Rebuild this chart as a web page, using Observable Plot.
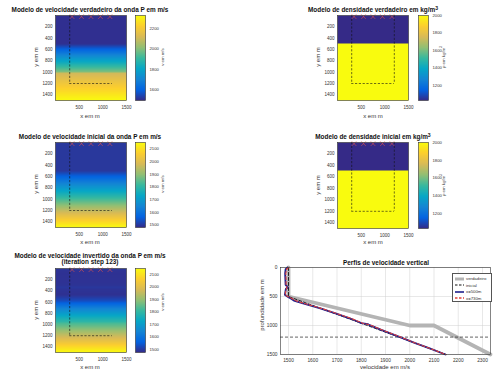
<!DOCTYPE html>
<html><head><meta charset="utf-8">
<script src="https://cdn.jsdelivr.net/npm/d3@7"></script>
<script src="https://cdn.jsdelivr.net/npm/@observablehq/plot@0.6"></script>
<style>
html,body{margin:0;padding:0;background:#fff;}
#fig{position:relative;width:494px;height:373px;overflow:hidden;font-family:"Liberation Sans",Arial,sans-serif;color:#222;}
.t{position:absolute;white-space:nowrap;transform:translate(-50%,-50%);line-height:1;}
.title{font-weight:bold;font-size:6.4px;color:#111;}
.lab{font-size:6px;color:#333;}
.rot{transform:translate(-50%,-50%) rotate(-90deg);}
.cbl{font-size:4.3px;color:#444;}
</style></head>
<body><div id="fig"></div>
<script>
// ---------------- data ----------------
const xTicks = [500, 1000, 1500];
const yTicks = [200, 400, 600, 800, 1000, 1200, 1400];
const sourceX = [350, 550, 750, 950, 1150];
const sourceDepth = [20, 20, 20, 20, 20];
const boxX = [300, 1200];
const boxDepth = [1200];

// true P velocity profile (depth m -> m/s)
const trueVelDepth = [0, 500, 1000, 1000, 1500];
const trueVelValue = [1500, 1500, 2000, 2100, 2333];
// initial P velocity profile
const initVelDepth = [0, 500, 1500];
const initVelValue = [1500, 1500, 2150];
// inverted profiles (iteration 123)
const invDepth = [0, 30, 100, 200, 300, 340, 370, 420, 470, 500, 530, 570, 620, 700, 800, 880, 940, 960, 975, 990, 1010, 1070, 1200, 1300, 1400, 1500];
const invVel500 = [1496, 1488, 1486, 1487, 1488, 1497, 1489, 1487, 1485, 1495, 1508, 1522, 1560, 1628, 1700, 1755, 1790, 1800, 1828, 1832, 1845, 1880, 1960, 2020, 2085, 2147];
const invVel730 = [1500, 1492, 1489, 1490, 1490, 1494, 1491, 1488, 1486, 1497, 1512, 1528, 1565, 1632, 1703, 1760, 1795, 1806, 1822, 1835, 1848, 1882, 1963, 2022, 2086, 2148];
// density models
const densDepth = [0, 490, 490, 1500];
const trueDensValue = [1030, 1030, 2000, 2000];
const initDensValue = [1030, 1030, 2000, 2000];

// colorbar ranges and ticks
const trueVelRange = [1490, 2333];
const initVelRange = [1480, 2150];
const invVelRange = [1475, 2148];
const densRange = [1030, 2000];
const trueVelTicks = [1600, 1800, 2000, 2200];
const velTicks = [1500, 1600, 1700, 1800, 1900, 2000, 2100];
const densTicks = [1200, 1400, 1600, 1800, 2000];

// profile plot
const profXTicks = [1500, 1600, 1700, 1800, 1900, 2000, 2100, 2200, 2300];
const profYTicks = [0, 500, 1000, 1500];
const profXDomain = [1467, 2333];
const legendLabels = ["verdadeiro", "inicial", "x=500m", "x=730m"];

// titles
const titles = [
  "Modelo de velocidade verdadeiro da onda P em m/s",
  "Modelo de densidade verdadeiro em kg/m<sup style='font-size:0.8em;vertical-align:0.45em'>3</sup>",
  "Modelo de velocidade inicial da onda P em m/s",
  "Modelo de densidade inicial em kg/m<sup style='font-size:0.8em;vertical-align:0.45em'>3</sup>",
  "Modelo de velocidade invertido da onda P em m/s<br>(iteration step 123)",
  "Perfis de velocidade vertical"
];

// ---------------- styles ----------------
const PARULA = ["#352a87","#0363e1","#1485d4","#06a7c6","#38b99e","#92bf73","#d9ba56","#fcce2e","#f9fb0e"];
const parula = d3.piecewise(d3.interpolateRgb, PARULA);
const fmt = d3.format("d");
const fig = document.getElementById("fig");
const baseStyle = {fontFamily: "'Liberation Sans', Arial, sans-serif", fontSize: "4.5px", color: "#333", background: "transparent", overflow: "visible"};

function place(node, fx, fy, m) {
  node.style.position = "absolute";
  node.style.left = (fx - m.left) + "px";
  node.style.top = (fy - m.top) + "px";
  fig.appendChild(node);
}
function text(html, x, y, cls) {
  const d = document.createElement("div");
  d.className = "t " + cls;
  d.innerHTML = html;
  d.style.left = x + "px";
  d.style.top = y + "px";
  fig.appendChild(d);
  return d;
}
const pts = (depths, vals) => depths.map((d, i) => ({depth: d, v: vals[i]}));

function heatmap(fx, fy, fw, fh, depths, vals, cdomain, rightSide) {
  const m = {left: 22, right: 4, top: 4, bottom: 12};
  const prof = d3.scaleLinear(depths, vals).clamp(true);
  const dash = {stroke: "#111", strokeWidth: 0.6, strokeDasharray: "2.2,1.6"};
  const marks = [
    Plot.raster({x1: 0, x2: 1500, y1: 0, y2: 1500, fill: (x, y) => prof(y)}),
    Plot.ruleX([boxX[0]], {y1: 0, y2: boxDepth[0], ...dash}),
    Plot.ruleY(boxDepth, {x1: boxX[0], x2: boxX[1], ...dash})
  ];
  if (rightSide) marks.push(Plot.ruleX([boxX[1]], {y1: 0, y2: boxDepth[0], ...dash}));
  marks.push(
    Plot.dot(sourceX, {x: d => d, y: (d, i) => sourceDepth[i], symbol: "times", r: 2.2, stroke: "#e2504c", strokeWidth: 0.6}),
    Plot.frame({stroke: "#333", strokeWidth: 0.6}),
    Plot.axisX(xTicks, {tickSize: 0, tickPadding: 5, label: null, tickFormat: fmt}),
    Plot.axisY(yTicks, {tickSize: 0, tickPadding: 3, label: null, tickFormat: fmt})
  );
  const p = Plot.plot({
    width: fw + m.left + m.right, height: fh + m.top + m.bottom,
    marginLeft: m.left, marginRight: m.right, marginTop: m.top, marginBottom: m.bottom,
    x: {domain: [0, 1500], axis: null},
    y: {domain: [0, 1500], reverse: true, axis: null},
    color: {type: "linear", domain: cdomain, interpolate: parula},
    style: baseStyle,
    marks
  });
  place(p, fx, fy, m);
}

function colorbar(fx, fy, fw, fh, cdomain, ticks) {
  const m = {left: 2, right: 18, top: 4, bottom: 4};
  const p = Plot.plot({
    width: fw + m.left + m.right, height: fh + m.top + m.bottom,
    marginLeft: m.left, marginRight: m.right, marginTop: m.top, marginBottom: m.bottom,
    x: {domain: [0, 1], axis: null},
    y: {domain: cdomain, axis: null},
    color: {type: "linear", domain: cdomain, interpolate: parula},
    style: {...baseStyle, fontSize: "4.2px"},
    marks: [
      Plot.raster({x1: 0, x2: 1, y1: cdomain[0], y2: cdomain[1], fill: (x, y) => y}),
      Plot.frame({stroke: "#333", strokeWidth: 0.6}),
      Plot.axisY(ticks, {anchor: "right", tickSize: 0, tickPadding: 4, label: null, tickFormat: fmt})
    ]
  });
  place(p, fx, fy, m);
}

// ---------------- left column: velocity ----------------
const L = {x: 55, w: 71};
const rows = [{y: 15, h: 85}, {y: 142, h: 85}, {y: 268, h: 84}];
heatmap(L.x, rows[0].y, L.w, rows[0].h, trueVelDepth, trueVelValue, trueVelRange, false);
heatmap(L.x, rows[1].y, L.w, rows[1].h, initVelDepth, initVelValue, initVelRange, false);
heatmap(L.x, rows[2].y, L.w, rows[2].h, invDepth, invVel500, invVelRange, false);
colorbar(135, rows[0].y, 10, rows[0].h, trueVelRange, trueVelTicks);
colorbar(135, rows[1].y, 10, rows[1].h, initVelRange, velTicks);
colorbar(135, rows[2].y, 10, rows[2].h, invVelRange, velTicks);

// ---------------- right column: density ----------------
const R = {x: 337, w: 71};
heatmap(R.x, rows[0].y, R.w, rows[0].h, densDepth, trueDensValue, densRange, true);
heatmap(R.x, rows[1].y, R.w, 86, densDepth, initDensValue, densRange, true);
colorbar(418, rows[0].y, 10, rows[0].h, densRange, densTicks);
colorbar(418, rows[1].y, 10, 86, densRange, densTicks);

// ---------------- profile panel ----------------
(function () {
  const fx = 280, fy = 267, fw = 210, fh = 87;
  const m = {left: 22, right: 4, top: 4, bottom: 14};
  const grid = {stroke: "#d0d0d0", strokeOpacity: 1, strokeWidth: 0.5};
  const p = Plot.plot({
    width: fw + m.left + m.right, height: fh + m.top + m.bottom,
    marginLeft: m.left, marginRight: m.right, marginTop: m.top, marginBottom: m.bottom,
    x: {domain: profXDomain, axis: null},
    y: {domain: [0, 1500], reverse: true, axis: null},
    style: {...baseStyle, fontSize: "4.8px"},
    marks: [
      Plot.gridX(profXTicks, grid),
      Plot.gridY(profYTicks, grid),
      Plot.line(pts(trueVelDepth, trueVelValue), {x: "v", y: "depth", stroke: "#b4b4b4", strokeWidth: 3.8, strokeLinejoin: "miter"}),
      Plot.line(pts(initVelDepth, initVelValue), {x: "v", y: "depth", stroke: "#111", strokeWidth: 0.9, strokeDasharray: "3,2"}),
      Plot.ruleY(boxDepth, {stroke: "#222", strokeWidth: 0.7, strokeDasharray: "3,2"}),
      Plot.line(pts(invDepth, invVel500), {x: "v", y: "depth", stroke: "#1d1f8c", strokeWidth: 1.8}),
      Plot.line(pts(invDepth, invVel730), {x: "v", y: "depth", stroke: "#e0423c", strokeWidth: 1.1, strokeDasharray: "3,2"}),
      Plot.frame({stroke: "#333", strokeWidth: 0.6}),
      Plot.axisX(profXTicks, {tickSize: 0, tickPadding: 4, label: null, tickFormat: fmt}),
      Plot.axisY(profYTicks, {tickSize: 0, tickPadding: 3, label: null, tickFormat: fmt})
    ]
  });
  place(p, fx, fy, m);

  // legend
  const lg = document.createElement("div");
  lg.style.cssText = "position:absolute;left:452px;top:273px;width:38px;height:27px;border:0.5px solid #555;background:#fff;font-size:4.3px;color:#333;";
  const styles = [
    {stroke: "#b4b4b4", w: 3, dash: ""},
    {stroke: "#111", w: 1.2, dash: "2.5,1.5"},
    {stroke: "#1d1f8c", w: 1.6, dash: ""},
    {stroke: "#e0423c", w: 1.3, dash: "2.5,1.5"}
  ];
  legendLabels.forEach((lab, i) => {
    const row = document.createElement("div");
    row.style.cssText = `position:absolute;left:1px;top:${1.5 + i * 6.6}px;height:6px;display:flex;align-items:center;white-space:nowrap;`;
    const s = styles[i];
    row.innerHTML = `<svg width="10" height="6" style="margin-right:2px"><line x1="1" x2="10" y1="3" y2="3" stroke="${s.stroke}" stroke-width="${s.w}" stroke-dasharray="${s.dash}"/></svg><span>${lab}</span>`;
    lg.appendChild(row);
  });
  fig.appendChild(lg);
})();

// ---------------- text: titles and labels ----------------
text(titles[0], 90, 9.5, "title");
text(titles[1], 373, 10, "title");
text(titles[2], 90, 137, "title");
text(titles[3], 373, 137, "title");
text(titles[4], 90, 259, "title").style.textAlign = "center";
text(titles[5], 386, 262.5, "title");

// axis labels
[[90, 116], [90, 242], [90, 367], [373, 116], [373, 242]].forEach(([x, y]) => text("x em m", x, y, "lab"));
[[36, 57], [36, 184], [36, 310], [318, 57], [318, 185]].forEach(([x, y]) => text("y em m", x, y, "lab rot"));
text("velocidade em m/s", 385, 367, "lab");
text("profundidade em m", 262, 305, "lab rot");
[[163, 57], [163, 184], [163, 302]].forEach(([x, y]) => text("v em m/s", x, y, "cbl rot"));
[[443, 57], [443, 185]].forEach(([x, y]) => text("ρ em kg/m<sup style='font-size:0.8em'>3</sup>", x, y, "cbl rot"));
</script></body></html>
